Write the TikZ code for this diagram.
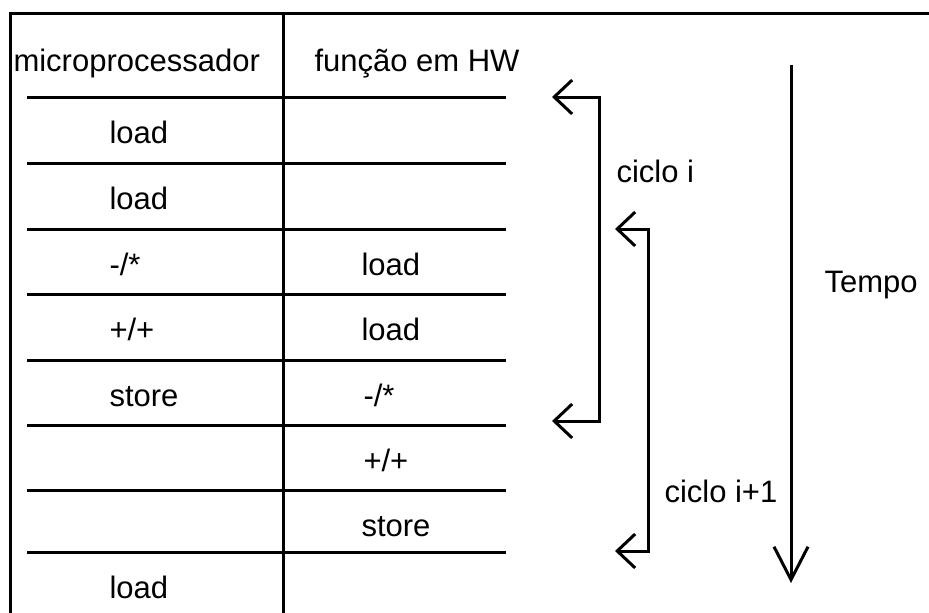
\documentclass[tikz,border=0pt]{standalone}
\usepackage{fontspec}
\setmainfont{Liberation Sans}
\usetikzlibrary{arrows.meta}

\begin{document}
\begin{tikzpicture}[x=1pt,y=-1pt,line width=3pt,
  >={Straight Barb[length=18pt,width=34pt]},
  txt/.style={anchor=base west,inner sep=0pt,font=\fontsize{31}{37}\selectfont}]
\useasboundingbox (0,0) rectangle (929,613);
% table frame
\draw (10,613)--(10,13)--(929,13);
\draw (283,13)--(283,613);
\foreach \y in {97,163,229,294,360,425,490,552}
  \draw (27,\y)--(506,\y);
% column heads
\node[txt] (mp) at (12,71) {microprocessador};
\node[txt] (hw) at (313,71) {função em HW};
% microprocessor column
\node[txt] (m1) at (108,143) {load};
\node[txt] (m2) at (108,209) {load};
\node[txt] (m3) at (108,275) {-/*};
\node[txt] (m4) at (108,340) {+/+};
\node[txt] (m5) at (108,406) {store};
\node[txt] (m8) at (108,598) {load};
% hardware column
\node[txt] (h3) at (360,275) {load};
\node[txt] (h4) at (360,340) {load};
\node[txt] (h5) at (362,406) {-/*};
\node[txt] (h6) at (362,471) {+/+};
\node[txt] (h7) at (360,536) {store};
% loop iterations
\coordinate (ia) at (552,97);
\coordinate (ib) at (552,421);
\coordinate (ja) at (615,229);
\coordinate (jb) at (615,551);
\draw[<->] (ia) -- ++(47,0) |- (ib);
\draw[<->] (ja) -- ++(33,0) |- (jb);
\node[txt] (ci) at (615,182) {ciclo i};
\node[txt] (cj) at (663,502) {ciclo i+1};
% time axis
\coordinate (t0) at (791,65);
\coordinate (t1) at (791,583);
\draw[-{Straight Barb[length=33pt,width=34pt]}] (t0) -- (t1);
\node[txt] (tp) at (823,292) {Tempo};
\end{tikzpicture}
\end{document}
